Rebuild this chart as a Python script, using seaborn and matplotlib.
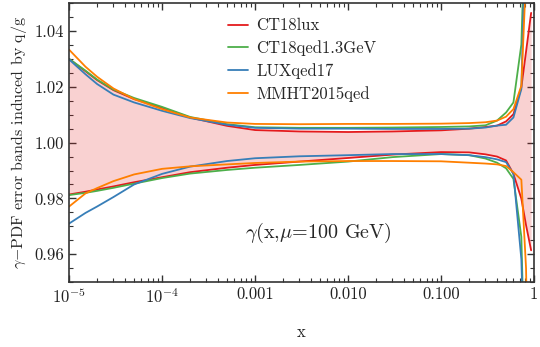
import numpy as np
import pandas as pd
import seaborn as sns
import matplotlib
matplotlib.use("Agg")
import matplotlib.pyplot as plt
from matplotlib.ticker import LogLocator, MultipleLocator, NullFormatter

# x grid and the upper / lower error-band edges of each photon PDF
x = [1e-5, 1.5e-5, 2e-5, 3e-5, 5e-5, 1e-4, 2e-4, 5e-4, 1e-3, 3e-3, 0.01,
     0.03, 0.1, 0.2, 0.3, 0.4, 0.5, 0.6, 0.73, 0.82, 0.93]

ct18lux_up = [1.0300, 1.0256, 1.0224, 1.0188, 1.0156, 1.0125, 1.0090, 1.0060, 1.0045, 1.0040, 1.0038,
              1.0040, 1.0044, 1.0050, 1.0056, 1.0061, 1.0076, 1.0102, 1.0198, 1.0326, 1.0465]
ct18lux_lo = [0.9814, 0.9824, 0.9832, 0.9843, 0.9858, 0.9876, 0.9894, 0.9910, 0.9920, 0.9932, 0.9945,
              0.9957, 0.9966, 0.9965, 0.9958, 0.9950, 0.9936, 0.9888, 0.9799, 0.9704, 0.9614]
ct18qed_up = [1.0300, 1.0258, 1.0226, 1.0190, 1.0160, 1.0128, 1.0092, 1.0066, 1.0055, 1.0053, 1.0053,
              1.0054, 1.0056, 1.0058, 1.0062, 1.0079, 1.0108, 1.0144, 1.0352, 1.0900, 1.1500]
ct18qed_lo = [0.9812, 0.9820, 0.9827, 0.9838, 0.9853, 0.9873, 0.9889, 0.9902, 0.9910, 0.9920, 0.9932,
              0.9948, 0.9959, 0.9955, 0.9943, 0.9928, 0.9908, 0.9870, 0.9662, 0.9000, 0.8500]
luxqed_up = [1.0298, 1.0245, 1.0210, 1.0172, 1.0144, 1.0114, 1.0088, 1.0064, 1.0053, 1.0050, 1.0050,
             1.0049, 1.0049, 1.0050, 1.0054, 1.0061, 1.0064, 1.0090, 1.0192, 1.0850, 1.1500]
luxqed_lo = [0.9710, 0.9748, 0.9771, 0.9805, 0.9850, 0.9888, 0.9914, 0.9934, 0.9944, 0.9951, 0.9955,
             0.9959, 0.9959, 0.9955, 0.9948, 0.9940, 0.9930, 0.9888, 0.9582, 0.9000, 0.8500]
mmht_up = [1.0333, 1.0272, 1.0236, 1.0194, 1.0156, 1.0120, 1.0090, 1.0072, 1.0067, 1.0066, 1.0067,
           1.0067, 1.0068, 1.0070, 1.0073, 1.0079, 1.0093, 1.0120, 1.0204, 1.0600, 1.1500]
mmht_lo = [0.9771, 0.9818, 0.9837, 0.9862, 0.9886, 0.9906, 0.9915, 0.9922, 0.9927, 0.9932, 0.9934,
           0.9934, 0.9933, 0.9928, 0.9925, 0.9922, 0.9916, 0.9894, 0.9867, 0.9550, 0.8500]

labels = ["CT18lux", "CT18qed1.3GeV", "LUXqed17", "MMHT2015qed"]
colors = ["#e41a1c", "#4daf4a", "#377eb8", "#ff7f00"]
bands = [(ct18lux_up, ct18lux_lo), (ct18qed_up, ct18qed_lo),
         (luxqed_up, luxqed_lo), (mmht_up, mmht_lo)]

rows = []
for name, (up, lo) in zip(labels, bands):
    for edge, vals in (("up", up), ("lo", lo)):
        for xi, yi in zip(x, vals):
            rows.append({"x": xi, "ratio": yi, "pdf": name, "edge": edge})
df = pd.DataFrame(rows)

sns.set_style("ticks")
plt.rcParams["font.family"] = "serif"
plt.rcParams["font.serif"] = ["cmr10", "DejaVu Serif"]
plt.rcParams["mathtext.fontset"] = "cm"
plt.rcParams["axes.unicode_minus"] = False
plt.rcParams["axes.formatter.use_mathtext"] = True

fig = plt.figure(figsize=(5.4, 3.47), dpi=100)
ax = fig.add_axes([0.128, 0.187, 0.861, 0.804])

ax.fill_between(x, ct18lux_lo, ct18lux_up, color="#e41a1c", alpha=0.2, lw=0)
sns.lineplot(data=df, x="x", y="ratio", hue="pdf", units="edge", estimator=None,
             palette=dict(zip(labels, colors)), hue_order=labels, lw=1.3,
             sort=False, ax=ax)

ax.set_xscale("log")
ax.set_xlim(1e-5, 1)
ax.set_ylim(0.95, 1.05)
ax.set_xticks([1e-5, 1e-4, 1e-3, 1e-2, 1e-1, 1])
ax.set_xticklabels([r"$10^{-5}$", r"$10^{-4}$", "0.001", "0.010", "0.100", "1"])
ax.xaxis.set_minor_locator(LogLocator(base=10, subs=np.arange(2, 10)))
ax.xaxis.set_minor_formatter(NullFormatter())
ax.yaxis.set_major_locator(MultipleLocator(0.02))
ax.yaxis.set_minor_locator(MultipleLocator(0.005))
ax.yaxis.set_major_formatter(plt.FuncFormatter(lambda v, p: f"{v:.2f}"))
ax.tick_params(which="both", direction="in", top=True, right=True,
               labelsize=12, colors="#333333", labelcolor="#222222")
ax.tick_params(which="major", length=5, width=1)
ax.tick_params(which="minor", length=3, width=0.8)
for s in ax.spines.values():
    s.set_color("#333333")
    s.set_linewidth(1.2)

ax.set_xlabel("x", fontsize=12, labelpad=13)
ax.set_ylabel(r"$\gamma$$-$PDF error bands induced by q/g", fontsize=11.5, labelpad=4)
ax.text(4.8e-3, 0.9675, r"$\gamma$(x,$\mu$=100 GeV)", fontsize=14.5,
        ha="center", va="center")

leg = ax.legend(loc="upper left", bbox_to_anchor=(0.31, 1.0), frameon=False,
                fontsize=12, handlelength=1.2, handletextpad=0.5, labelspacing=0.42)

fig.savefig("out.png", dpi=100)
